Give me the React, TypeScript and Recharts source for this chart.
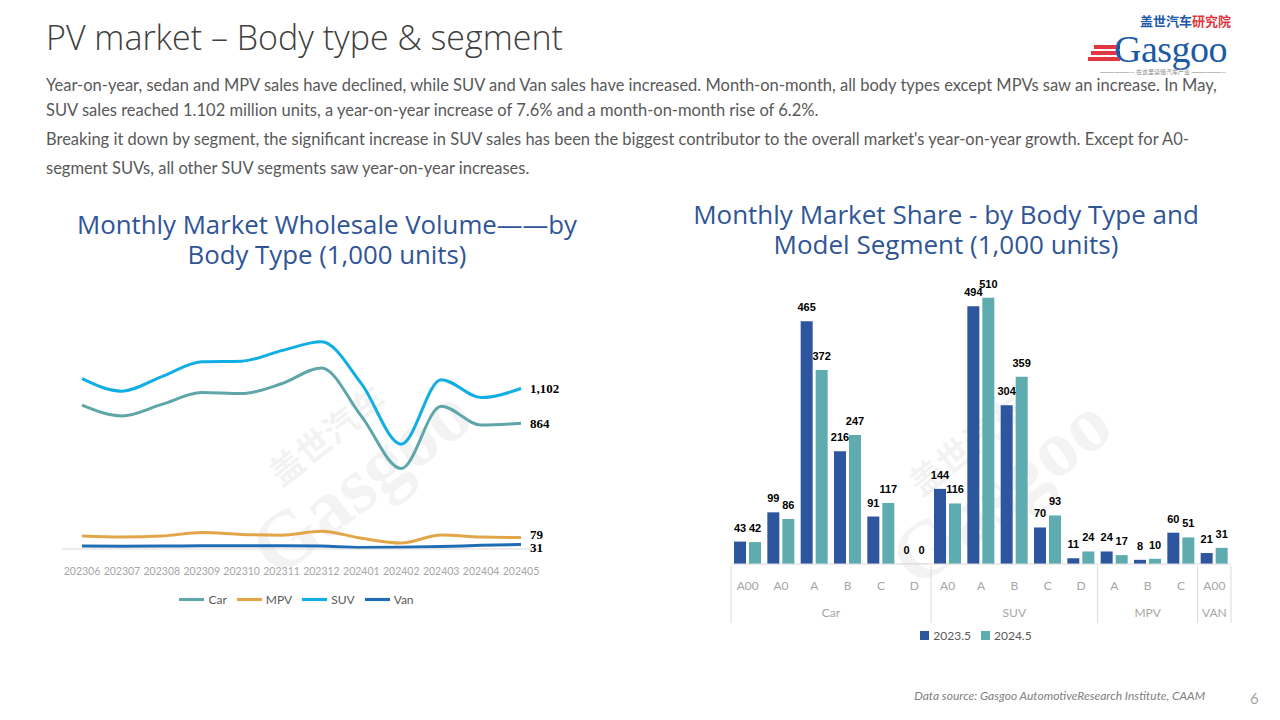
import React from 'react';
import {
  LineChart, Line, BarChart, Bar, XAxis, YAxis, Legend, LabelList,
} from 'recharts';

// ---- data: wholesale volume by body type (1,000 units)
const months = ['202306', '202307', '202308', '202309', '202310', '202311', '202312', '202401', '202402', '202403', '202404', '202405'];
const carVol = [988, 914, 993, 1074, 1067, 1135, 1243, 912, 553, 981, 851, 864];
const mpvVol = [90, 82, 89, 113, 100, 95, 122, 74, 41, 96, 82, 79];
const suvVol = [1170, 1084, 1184, 1286, 1290, 1362, 1423, 1136, 720, 1163, 1040, 1102];
const vanVol = [20, 19, 20, 22, 23, 23, 20, 10, 12, 17, 25, 31];

// ---- data: May volume by body type and segment
const segments = ['A00', 'A0', 'A', 'B', 'C', 'D', 'A0', 'A', 'B', 'C', 'D', 'A', 'B', 'C', 'A00'];
const groups = ['Car', 'Car', 'Car', 'Car', 'Car', 'Car', 'SUV', 'SUV', 'SUV', 'SUV', 'SUV', 'MPV', 'MPV', 'MPV', 'VAN'];
const may2023 = [43, 99, 465, 216, 91, 0.2, 144, 494, 304, 70, 11, 24, 8, 60, 21];
const may2024 = [42, 86, 372, 247, 117, 0.4, 116, 510, 359, 93, 24, 17, 10, 51, 31];

const volumeRows = months.map((m, i) => ({
  month: m, Car: carVol[i], MPV: mpvVol[i], SUV: suvVol[i], Van: vanVol[i],
}));
const segmentRows = segments.map((s, i) => ({
  seg: s, group: groups[i], '2023.5': may2023[i], '2024.5': may2024[i],
}));

const NAVY = '#2f5597';
const GRAY_TXT = '#595959';
const TICK_GRAY = '#a6a6a6';
const FONT = 'Lato, "Open Sans", "Noto Sans", sans-serif';

// right chart plot width — needed to find band edges for the grouped axis
const BAR_W = 520;
const BAR_MARGIN = { top: 17, right: 9, left: 11, bottom: 17 };
const BAND = (BAR_W - BAR_MARGIN.left - BAR_MARGIN.right) / segmentRows.length;

// last-point labels on the line chart
const endLabel = (dy: number) => (props: any) => {
  const { x, y, value, index } = props;
  if (index !== volumeRows.length - 1) return null;
  return (
    <text x={x + 9} y={y + dy} dominantBaseline="central" fontSize={13} fontWeight="bold"
      fontFamily='"Liberation Serif", serif' fill="#000">
      {Number(value).toLocaleString('en-US')}
    </text>
  );
};

const MonthTick = (props: any) => {
  const { x, y, payload } = props;
  return (
    <text x={x} y={y + 24} textAnchor="middle" fontSize={10.5} fill={TICK_GRAY} fontFamily={FONT}>
      {payload.value}
    </text>
  );
};

// two-row category axis: segment on top, body type below, with separators
const SegTick = (props: any) => {
  const { x, y, payload, index } = props;
  const grp = groups[index];
  const isStart = index === 0 || groups[index - 1] !== grp;
  const isLast = index === groups.length - 1;
  const n = groups.filter((g) => g === grp).length;
  const sepColor = '#d9d9d9';
  return (
    <g>
      <text x={x} y={y + 24} textAnchor="middle" fontSize={12} fill={TICK_GRAY} fontFamily={FONT}>
        {payload.value}
      </text>
      {isStart && (
        <>
          <line x1={x - BAND / 2} x2={x - BAND / 2} y1={y} y2={y + 57} stroke={sepColor} />
          <text x={x + ((n - 1) / 2) * BAND} y={y + 51} textAnchor="middle" fontSize={12}
            fill={TICK_GRAY} fontFamily={FONT}>
            {grp}
          </text>
        </>
      )}
      {isLast && <line x1={x + BAND / 2} x2={x + BAND / 2} y1={y} y2={y + 57} stroke={sepColor} />}
    </g>
  );
};

const barLabel = (props: any) => {
  const { x, y, width, value } = props;
  return (
    <text x={x + width / 2} y={y - 14} textAnchor="middle" dominantBaseline="central" fontSize={11}
      fontWeight="bold" fontFamily='"Liberation Sans", Arial, sans-serif' fill="#000">
      {Math.round(value)}
    </text>
  );
};

const Watermark = ({ left, top }: { left: number; top: number }) => (
  <div style={{
    position: 'absolute', left, top, transform: 'rotate(-38deg)', transformOrigin: 'left top',
    color: 'rgba(200,200,200,0.22)', fontFamily: '"Liberation Serif", serif', pointerEvents: 'none',
    whiteSpace: 'nowrap', lineHeight: 1,
  }}>
    <div style={{ fontSize: 34, fontFamily: '"Noto Sans CJK SC", sans-serif', fontWeight: 700, marginLeft: 60 }}>盖世汽车</div>
    <div style={{ fontSize: 80, fontWeight: 700 }}>Gasgoo</div>
  </div>
);

const textLine: React.CSSProperties = {
  position: 'absolute', left: 46, fontSize: 16.5, lineHeight: '20px', color: GRAY_TXT, fontFamily: FONT, whiteSpace: 'nowrap',
};

export default function App() {
  return (
    <div style={{ position: 'absolute', left: 0, top: 0, width: 1280, height: 720, background: '#fff', overflow: 'hidden', fontFamily: FONT }}>
      <div style={{ position: 'absolute', left: 46, top: 14, fontSize: 34, color: '#404040', fontWeight: 300, fontFamily: '"Open Sans", Lato, sans-serif', whiteSpace: 'nowrap' }}>
        PV market – Body type &amp; segment
      </div>

      {/* logo */}
      <div style={{ position: 'absolute', left: 1086, top: 12, width: 154, height: 64, whiteSpace: 'nowrap' }}>
        <div style={{ position: 'absolute', left: 54, top: 2, fontSize: 13, lineHeight: '14px', fontWeight: 700, fontFamily: '"Noto Sans CJK SC", sans-serif' }}>
          <span style={{ color: '#1d5aa6' }}>盖世汽车</span><span style={{ color: '#e0383e' }}>研究院</span>
        </div>
        {[0, 6, 12].map((d) => (
          <div key={d} style={{ position: 'absolute', left: 8 - d / 2, top: 33 + d, width: 26 + d / 2, height: 3.5, background: '#e0383e' }} />
        ))}
        <div style={{ position: 'absolute', left: 28, top: 20, fontSize: 38, lineHeight: '34px', color: '#1d5aa6', fontFamily: '"Liberation Serif", serif', letterSpacing: -0.5 }}>
          Gasgoo
        </div>
        <div style={{ position: 'absolute', left: 0, top: 56, width: 154, fontSize: 6, lineHeight: '7px', color: '#888', textAlign: 'center', fontFamily: '"Noto Sans CJK SC", sans-serif' }}>
          ——————— 在这里读懂汽车产业 ———————
        </div>
      </div>

      <div style={{ ...textLine, top: 75 }}>
        Year-on-year, sedan and MPV sales have declined, while SUV and Van sales have increased. Month-on-month, all body types except MPVs saw an increase. In May,
      </div>
      <div style={{ ...textLine, top: 100 }}>
        SUV sales reached 1.102 million units, a year-on-year increase of 7.6% and a month-on-month rise of 6.2%.
      </div>
      <div style={{ ...textLine, top: 129 }}>
        Breaking it down by segment, the significant increase in SUV sales has been the biggest contributor to the overall market's year-on-year growth. Except for A0-
      </div>
      <div style={{ ...textLine, top: 158 }}>
        segment SUVs, all other SUV segments saw year-on-year increases.
      </div>

      {/* chart titles */}
      <div style={{ position: 'absolute', left: 40, width: 574, top: 209, textAlign: 'center', fontSize: 25.8, lineHeight: '30px', color: NAVY, fontFamily: '"Open Sans", sans-serif' }}>
        Monthly Market Wholesale Volume——by<br />Body Type (1,000 units)
      </div>
      <div style={{ position: 'absolute', left: 660, width: 572, top: 199, textAlign: 'center', fontSize: 26, lineHeight: '30px', color: NAVY, fontFamily: '"Open Sans", sans-serif' }}>
        Monthly Market Share - by Body Type and<br />Model Segment (1,000 units)
      </div>

      <Watermark left={215} top={500} />
      <Watermark left={855} top={510} />

      {/* left: line chart */}
      <div style={{ position: 'absolute', left: 40, top: 300 }}>
        <LineChart width={600} height={320} data={volumeRows} margin={{ top: 16, right: 99, left: 22, bottom: 8 }}>
          <XAxis dataKey="month" interval={0} tickLine={false} tickSize={0} height={38}
            axisLine={{ stroke: '#d9d9d9' }} padding={{ left: 20, right: 20 }} tick={<MonthTick />} />
          <YAxis hide domain={[0, 1600]} />
          <Legend iconType="plainline" iconSize={25}
            formatter={(v) => <span style={{ color: GRAY_TXT, fontSize: 12, fontFamily: FONT }}>{v}</span>} />
          <Line dataKey="Car" type="monotone" stroke="#5fa6a9" strokeWidth={3} dot={false} isAnimationActive={false}>
            <LabelList dataKey="Car" content={endLabel(0)} />
          </Line>
          <Line dataKey="MPV" type="monotone" stroke="#e2a648" strokeWidth={3} dot={false} isAnimationActive={false}>
            <LabelList dataKey="MPV" content={endLabel(-3)} />
          </Line>
          <Line dataKey="SUV" type="monotone" stroke="#11aee6" strokeWidth={3} dot={false} isAnimationActive={false}>
            <LabelList dataKey="SUV" content={endLabel(0)} />
          </Line>
          <Line dataKey="Van" type="monotone" stroke="#1e6db4" strokeWidth={3} dot={false} isAnimationActive={false}>
            <LabelList dataKey="Van" content={endLabel(3)} />
          </Line>
        </LineChart>
      </div>

      {/* right: grouped bar chart */}
      <div style={{ position: 'absolute', left: 720, top: 260 }}>
        <BarChart width={BAR_W} height={400} data={segmentRows} margin={BAR_MARGIN} barGap={3} barCategoryGap={3}>
          <XAxis dataKey="seg" interval={0} tickLine={false} tickSize={0} height={60}
            axisLine={{ stroke: '#d9d9d9' }} tick={<SegTick />} />
          <YAxis hide domain={[0, 550]} />
          <Legend iconType="square" iconSize={9}
            formatter={(v) => <span style={{ color: GRAY_TXT, fontSize: 12, fontFamily: FONT }}>{v}</span>} />
          <Bar dataKey="2023.5" fill="#2e569f" isAnimationActive={false}>
            <LabelList dataKey="2023.5" content={barLabel} />
          </Bar>
          <Bar dataKey="2024.5" fill="#5eabb0" isAnimationActive={false}>
            <LabelList dataKey="2024.5" content={barLabel} />
          </Bar>
        </BarChart>
      </div>

      <div style={{ position: 'absolute', right: 75, top: 688, fontSize: 12, fontStyle: 'italic', color: '#7f7f7f', fontFamily: FONT, whiteSpace: 'nowrap' }}>
        Data source: Gasgoo AutomotiveResearch Institute, CAAM
      </div>
      <div style={{ position: 'absolute', left: 1250, top: 689, fontSize: 15, color: '#a6a6a6', fontFamily: FONT }}>6</div>
    </div>
  );
}
